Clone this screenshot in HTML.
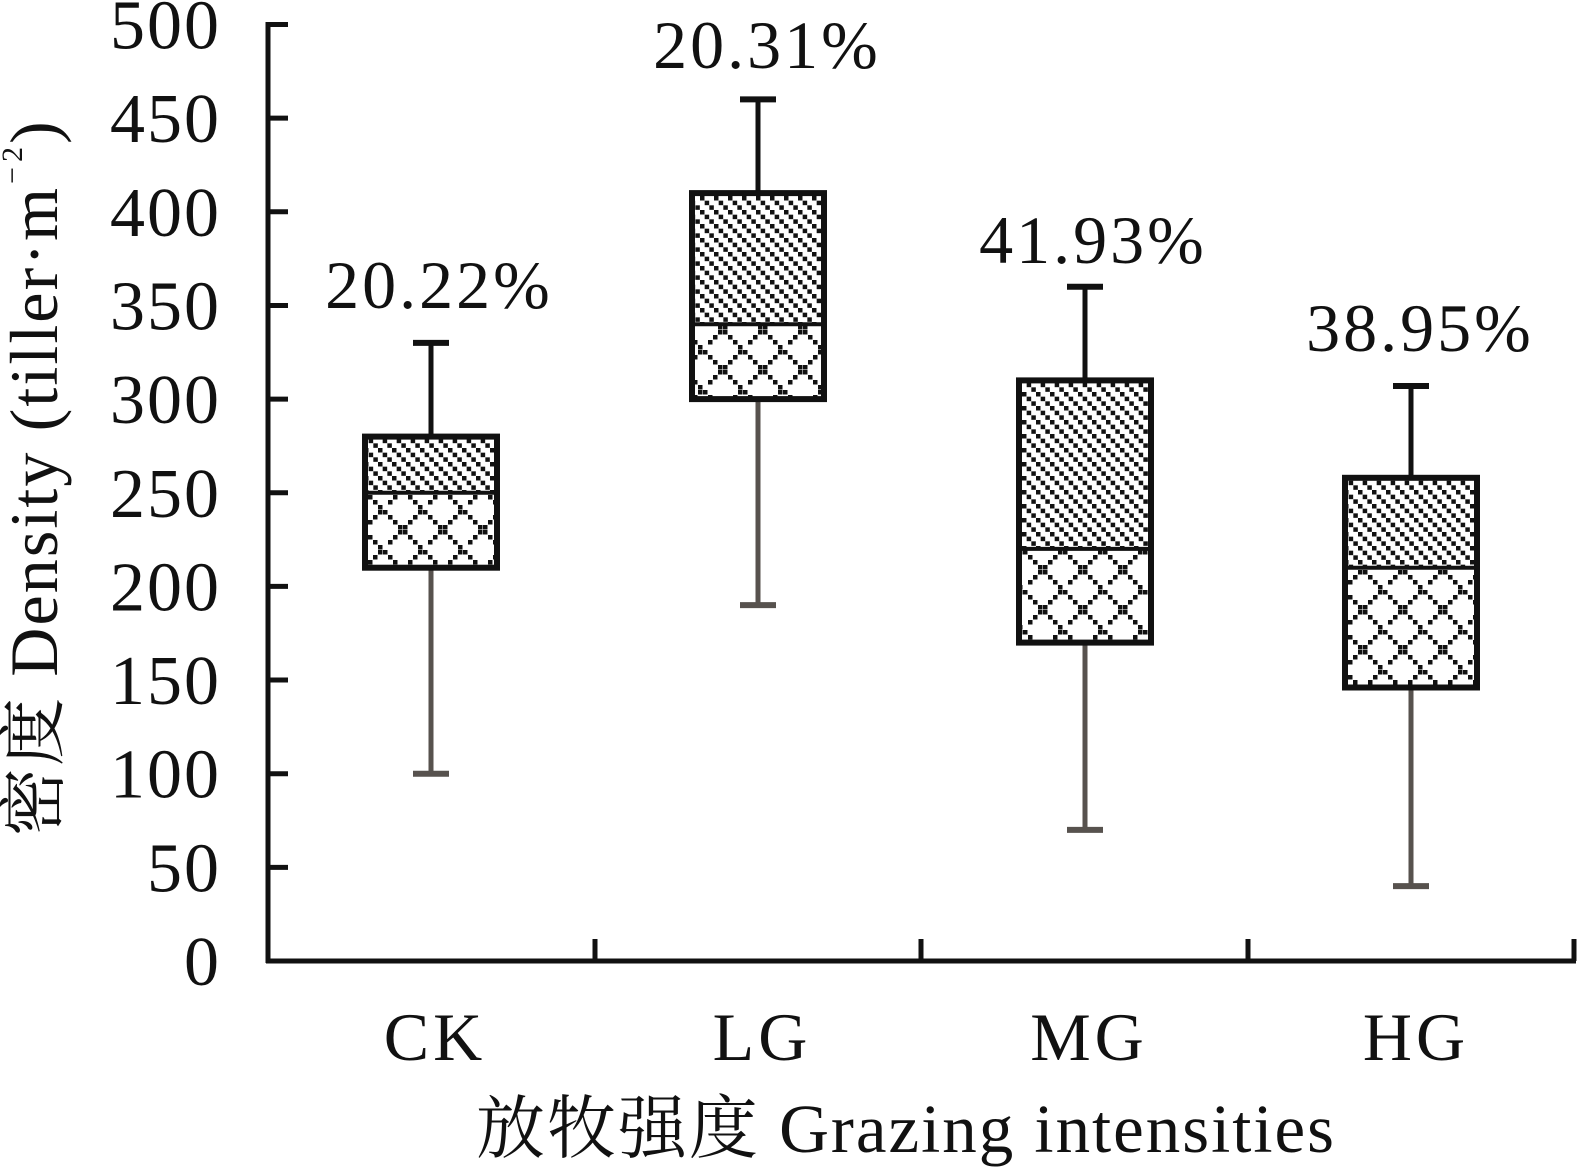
<!DOCTYPE html>
<html><head><meta charset="utf-8"><style>
html,body{margin:0;padding:0;background:#fff;}
svg{display:block;}
text{font-family:"Liberation Serif","Noto Serif CJK SC",serif;fill:#111;}
</style></head><body>
<svg width="1577" height="1167" viewBox="0 0 1577 1167" xmlns="http://www.w3.org/2000/svg">
<defs>
<pattern id="hatch" patternUnits="userSpaceOnUse" width="14" height="14">
<rect width="14" height="14" fill="#fff"/>
<rect x="0" y="0" width="4.5" height="4.5" fill="#111"/>
<rect x="4.67" y="4.67" width="4.5" height="4.5" fill="#111"/>
<rect x="9.33" y="9.33" width="4.5" height="4.5" fill="#111"/>
</pattern>
<pattern id="diam" patternUnits="userSpaceOnUse" x="3" y="10" width="40" height="40">
<rect width="40" height="40" fill="#fff"/>
<g fill="#111">
<rect x="0" y="0" width="4.5" height="4.5"/><rect x="5" y="5" width="4.5" height="4.5"/><rect x="10" y="10" width="4.5" height="4.5"/><rect x="15" y="15" width="4.5" height="4.5"/><rect x="20" y="20" width="4.5" height="4.5"/><rect x="25" y="25" width="4.5" height="4.5"/><rect x="30" y="30" width="4.5" height="4.5"/><rect x="35" y="35" width="4.5" height="4.5"/>
<rect x="35" y="0" width="4.5" height="4.5"/><rect x="30" y="5" width="4.5" height="4.5"/><rect x="25" y="10" width="4.5" height="4.5"/><rect x="15" y="20" width="4.5" height="4.5"/><rect x="10" y="25" width="4.5" height="4.5"/><rect x="5" y="30" width="4.5" height="4.5"/><rect x="0" y="35" width="4.5" height="4.5"/>
</g>
</pattern>
</defs>
<rect width="1577" height="1167" fill="#fff"/>

<!-- axes -->
<g stroke="#111" stroke-width="5" fill="none">
<line x1="268" y1="22" x2="268" y2="963"/>
<line x1="266" y1="961" x2="1576" y2="961"/>
<line x1="268" y1="24.5" x2="288" y2="24.5"/>
<line x1="268" y1="118.15" x2="288" y2="118.15"/>
<line x1="268" y1="211.8" x2="288" y2="211.8"/>
<line x1="268" y1="305.45" x2="288" y2="305.45"/>
<line x1="268" y1="399.1" x2="288" y2="399.1"/>
<line x1="268" y1="492.75" x2="288" y2="492.75"/>
<line x1="268" y1="586.4" x2="288" y2="586.4"/>
<line x1="268" y1="680.05" x2="288" y2="680.05"/>
<line x1="268" y1="773.7" x2="288" y2="773.7"/>
<line x1="268" y1="867.35" x2="288" y2="867.35"/>
<line x1="595" y1="939" x2="595" y2="961"/>
<line x1="921" y1="939" x2="921" y2="961"/>
<line x1="1248" y1="939" x2="1248" y2="961"/>
<line x1="1574" y1="939" x2="1574" y2="961"/>
</g>

<!-- tick labels -->
<g font-size="70" text-anchor="end" letter-spacing="2">
<text x="221" y="48.5">500</text>
<text x="221" y="142.15">450</text>
<text x="221" y="235.8">400</text>
<text x="221" y="329.45">350</text>
<text x="221" y="423.1">300</text>
<text x="221" y="516.75">250</text>
<text x="221" y="610.4">200</text>
<text x="221" y="704.05">150</text>
<text x="221" y="797.7">100</text>
<text x="221" y="891.35">50</text>
<text x="221" y="985">0</text>
</g>

<!-- CK -->
<g>
<line x1="431" y1="342.9" x2="431" y2="436.6" stroke="#111" stroke-width="5"/>
<line x1="413" y1="342.9" x2="449" y2="342.9" stroke="#111" stroke-width="6"/>
<line x1="431" y1="567.7" x2="431" y2="773.7" stroke="#57524e" stroke-width="5"/>
<line x1="413" y1="773.7" x2="449" y2="773.7" stroke="#57524e" stroke-width="6"/>
<rect x="365" y="436.6" width="132" height="56.15" fill="url(#hatch)"/>
<rect x="365" y="492.75" width="132" height="74.95" fill="url(#diam)"/>
<rect x="365" y="436.6" width="132" height="131.1" fill="none" stroke="#111" stroke-width="6"/>
<line x1="365" y1="492.75" x2="497" y2="492.75" stroke="#111" stroke-width="4"/>
</g>
<!-- LG -->
<g>
<line x1="758" y1="99.4" x2="758" y2="193.1" stroke="#111" stroke-width="5"/>
<line x1="740" y1="99.4" x2="776" y2="99.4" stroke="#111" stroke-width="6"/>
<line x1="758" y1="399.1" x2="758" y2="605.1" stroke="#57524e" stroke-width="5"/>
<line x1="740" y1="605.1" x2="776" y2="605.1" stroke="#57524e" stroke-width="6"/>
<rect x="692" y="193.1" width="132" height="131.1" fill="url(#hatch)"/>
<rect x="692" y="324.2" width="132" height="74.9" fill="url(#diam)"/>
<rect x="692" y="193.1" width="132" height="206" fill="none" stroke="#111" stroke-width="6"/>
<line x1="692" y1="324.2" x2="824" y2="324.2" stroke="#111" stroke-width="4"/>
</g>
<!-- MG -->
<g>
<line x1="1085" y1="286.7" x2="1085" y2="380.4" stroke="#111" stroke-width="5"/>
<line x1="1067" y1="286.7" x2="1103" y2="286.7" stroke="#111" stroke-width="6"/>
<line x1="1085" y1="642.6" x2="1085" y2="829.9" stroke="#57524e" stroke-width="5"/>
<line x1="1067" y1="829.9" x2="1103" y2="829.9" stroke="#57524e" stroke-width="6"/>
<rect x="1019" y="380.4" width="132" height="168.5" fill="url(#hatch)"/>
<rect x="1019" y="548.9" width="132" height="93.7" fill="url(#diam)"/>
<rect x="1019" y="380.4" width="132" height="262.2" fill="none" stroke="#111" stroke-width="6"/>
<line x1="1019" y1="548.9" x2="1151" y2="548.9" stroke="#111" stroke-width="4"/>
</g>
<!-- HG -->
<g>
<line x1="1411" y1="386" x2="1411" y2="477.8" stroke="#111" stroke-width="5"/>
<line x1="1393" y1="386" x2="1429" y2="386" stroke="#111" stroke-width="6"/>
<line x1="1411" y1="687.5" x2="1411" y2="886.1" stroke="#57524e" stroke-width="5"/>
<line x1="1393" y1="886.1" x2="1429" y2="886.1" stroke="#57524e" stroke-width="6"/>
<rect x="1345" y="477.8" width="132" height="89.9" fill="url(#hatch)"/>
<rect x="1345" y="567.7" width="132" height="119.8" fill="url(#diam)"/>
<rect x="1345" y="477.8" width="132" height="209.7" fill="none" stroke="#111" stroke-width="6"/>
<line x1="1345" y1="567.7" x2="1477" y2="567.7" stroke="#111" stroke-width="4"/>
</g>

<!-- percent labels -->
<g font-size="68" text-anchor="middle" letter-spacing="3">
<text x="439" y="308">20.22%</text>
<text x="767" y="68">20.31%</text>
<text x="1093" y="263">41.93%</text>
<text x="1420" y="351">38.95%</text>
</g>

<!-- x category labels -->
<g font-size="68" text-anchor="middle" letter-spacing="4">
<text x="435" y="1060">CK</text>
<text x="762" y="1060">LG</text>
<text x="1089" y="1060">MG</text>
<text x="1416" y="1060">HG</text>
</g>

<!-- x title -->
<text x="476" y="1152" font-size="69" textLength="858" lengthAdjust="spacing">放牧强度 Grazing intensities</text>

<!-- y title -->
<text transform="translate(57,836) rotate(-90)" x="0" y="0" font-size="68" textLength="648" lengthAdjust="spacing">密度 Density (tiller·m</text>
<text transform="translate(22,184) rotate(-90)" font-size="30"><tspan x="0">−</tspan><tspan x="22">2</tspan></text>
<text transform="translate(57,144) rotate(-90)" x="0" y="0" font-size="68">)</text>
</svg>
</body></html>
